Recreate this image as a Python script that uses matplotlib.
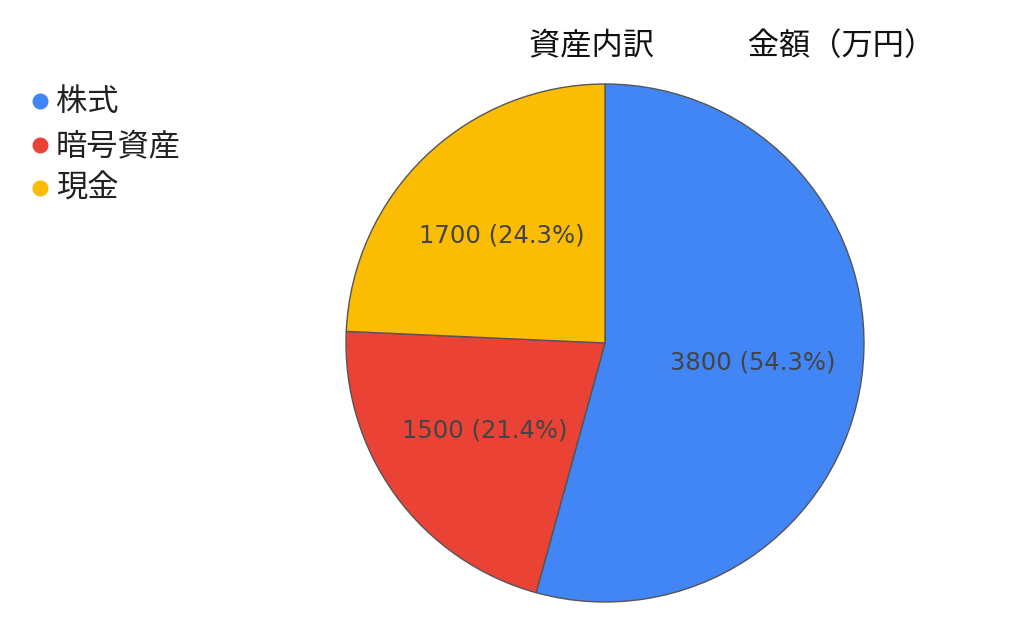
import matplotlib
matplotlib.use("Agg")
import matplotlib.pyplot as plt

categories = ["株式", "暗号資産", "現金"]
values = [3800, 1500, 1700]
colors = ["#4285F4", "#EA4335", "#FBBC04"]
title_text = "資産内訳　　　金額（万円）"

plt.rcParams['font.family'] = ['Noto Sans CJK JP', 'DejaVu Sans']

W, H = 1024, 633
fig = plt.figure(figsize=(W / 100, H / 100), dpi=100)
ax = fig.add_axes([0, 0, 1, 1])

total = sum(values)

def fmt(pct):
    v = round(pct * total / 100)
    return f"{v} ({pct:.1f}%)"

wedges, texts, autotexts = ax.pie(
    values, colors=colors, startangle=90, counterclock=False,
    center=(605, H - 343), radius=259, autopct=fmt, pctdistance=0.575,
    wedgeprops=dict(edgecolor="#555555", linewidth=1.0),
    textprops=dict(fontsize=17.5, color="#444444", family=['DejaVu Sans']),
    frame=True)
ax.set_xlim(0, W)
ax.set_ylim(0, H)
ax.set_aspect('equal')
ax.axis('off')

ax.text(529, H - 46, title_text, fontsize=22.5, color="#111111",
        ha='left', va='center')

leg_y = [101, 145, 188]
for cat, col, y in zip(categories, colors, leg_y):
    ax.plot([40], [H - y], marker='o', markersize=10.5, color=col, linestyle='none')
    ax.text(56, H - y - 1, cat, fontsize=22.5, color="#222222", ha='left', va='center')

fig.savefig("out.png", dpi=100)
